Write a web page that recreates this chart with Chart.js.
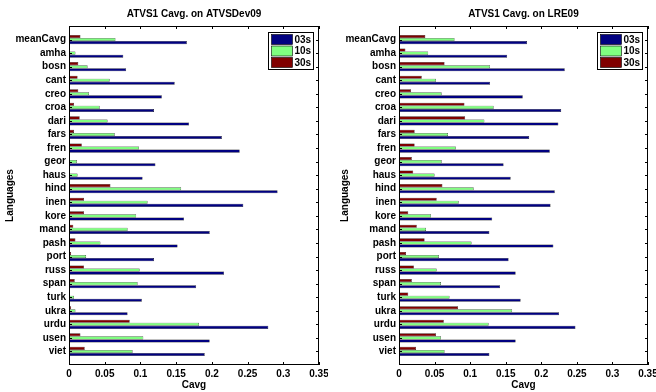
<!DOCTYPE html>
<html>
<head>
<meta charset="utf-8">
<script src="https://cdn.jsdelivr.net/npm/chart.js@4.4.1/dist/chart.umd.min.js"></script>
<style>
  html, body { margin: 0; padding: 0; background: #fff; }
  #wrap { position: relative; width: 656px; height: 392px; overflow: hidden; }
  .box { position: absolute; top: 0; width: 328px; height: 392px; }
</style>
</head>
<body>
<div id="wrap">
  <div class="box" style="left:0"><canvas id="devChart" width="328" height="392"></canvas></div>
  <div class="box" style="left:328px"><canvas id="lreChart" width="328" height="392"></canvas></div>
</div>
<script>
const languages = ["meanCavg", "amha", "bosn", "cant", "creo", "croa", "dari", "fars", "fren", "geor", "haus", "hind",
  "inen", "kore", "mand", "pash", "port", "russ", "span", "turk", "ukra", "urdu", "usen", "viet"];
const seriesNames = ["03s", "10s", "30s"];
const seriesColors = ["#000080", "#80ff80", "#800000"];
const xTickLabels = ["0", "0.05", "0.1", "0.15", "0.2", "0.25", "0.3", "0.35"];

// ATVSDev09
const dev03 = [0.165, 0.076, 0.080, 0.148, 0.130, 0.119, 0.168, 0.214, 0.239, 0.121, 0.103, 0.292,
  0.244, 0.161, 0.197, 0.152, 0.119, 0.217, 0.178, 0.102, 0.082, 0.279, 0.197, 0.190];
const dev10 = [0.065, 0.009, 0.026, 0.057, 0.028, 0.043, 0.054, 0.064, 0.098, 0.011, 0.012, 0.157,
  0.110, 0.094, 0.082, 0.044, 0.024, 0.099, 0.096, 0.007, 0.009, 0.182, 0.104, 0.089];
const dev30 = [0.016, 0.001, 0.013, 0.012, 0.013, 0.007, 0.015, 0.007, 0.018, 0.000, 0.000, 0.058,
  0.021, 0.021, 0.006, 0.009, 0.003, 0.021, 0.008, 0.000, 0.003, 0.085, 0.016, 0.022];

// LRE09
const lre03 = [0.180, 0.152, 0.233, 0.128, 0.174, 0.228, 0.224, 0.183, 0.212, 0.147, 0.157, 0.219,
  0.213, 0.131, 0.127, 0.217, 0.154, 0.164, 0.142, 0.171, 0.225, 0.248, 0.164, 0.127];
const lre10 = [0.078, 0.041, 0.128, 0.052, 0.060, 0.133, 0.120, 0.069, 0.080, 0.060, 0.050, 0.105,
  0.084, 0.045, 0.038, 0.102, 0.056, 0.053, 0.059, 0.071, 0.159, 0.126, 0.059, 0.064];
const lre30 = [0.037, 0.009, 0.064, 0.032, 0.017, 0.092, 0.093, 0.022, 0.022, 0.018, 0.020, 0.061,
  0.053, 0.013, 0.025, 0.036, 0.010, 0.021, 0.018, 0.013, 0.083, 0.063, 0.052, 0.024];

Chart.defaults.font.family = '"Liberation Sans", Arial, sans-serif';
Chart.defaults.font.size = 10;
Chart.defaults.font.weight = "bold";
Chart.defaults.color = "#000";

// blank slot above and below, like the matlab axis limits
const pad = (arr) => [null, ...arr, null];

// box, inward ticks and legend inside the plot
const framePlugin = {
  id: "frame",
  afterDraw(chart) {
    const { ctx, chartArea: a, scales: { x, y } } = chart;
    ctx.save();
    ctx.strokeStyle = "#000";
    ctx.lineWidth = 1;
    ctx.strokeRect(a.left + 0.5, a.top + 0.5, a.width - 1, a.height - 1);
    ctx.beginPath();
    x.ticks.forEach((t) => {
      const px = Math.round(x.getPixelForValue(t.value)) + 0.5;
      ctx.moveTo(px, a.bottom); ctx.lineTo(px, a.bottom - 3);
      ctx.moveTo(px, a.top); ctx.lineTo(px, a.top + 3);
    });
    for (let i = 1; i <= languages.length; i++) {
      const py = Math.round(y.getPixelForValue(i)) + 0.5;
      ctx.moveTo(a.left, py); ctx.lineTo(a.left + 3, py);
      ctx.moveTo(a.right, py); ctx.lineTo(a.right - 3, py);
    }
    ctx.stroke();

    // legend
    const lw = 45, lh = 37;
    const lx = Math.round(a.right - 6 - lw) + 0.5, ly = Math.round(a.top + 6) + 0.5;
    ctx.fillStyle = "#fff";
    ctx.fillRect(lx, ly, lw, lh);
    ctx.strokeRect(lx, ly, lw, lh);
    ctx.font = 'bold 10px "Liberation Sans", Arial, sans-serif';
    ctx.textBaseline = "middle";
    seriesNames.forEach((name, i) => {
      const ry = ly + 2 + i * 11.5;
      ctx.fillStyle = seriesColors[i];
      ctx.fillRect(lx + 3, ry, 21, 10);
      ctx.lineWidth = 0.6;
      ctx.strokeRect(lx + 3, ry, 21, 10);
      ctx.fillStyle = "#000";
      ctx.fillText(name, lx + 26, ry + 5.5);
    });
    ctx.restore();
  },
};

function createBarChart(canvasId, title, v03, v10, v30, yWidth, rightPad, yTitlePad) {
  const values = [v03, v10, v30];
  // 30s on top of each group, 03s at the bottom
  const datasets = [2, 1, 0].map((k) => ({
    label: seriesNames[k],
    data: pad(values[k]),
    backgroundColor: seriesColors[k],
    borderColor: "#000",
    borderWidth: 0.5,
    borderSkipped: false,
    categoryPercentage: 0.68,
    barPercentage: 1,
  }));

  new Chart(document.getElementById(canvasId), {
    type: "bar",
    data: { labels: ["", ...languages, ""], datasets: datasets },
    options: {
      indexAxis: "y",
      responsive: false,
      animation: false,
      layout: { padding: { left: 0, right: rightPad, top: 0, bottom: 0 } },
      scales: {
        x: {
          min: 0,
          max: 0.35,
          grid: { display: false, drawTicks: false },
          border: { display: false },
          ticks: {
            stepSize: 0.05,
            padding: 3,
            autoSkip: false,
            maxRotation: 0,
            callback: (v, i) => xTickLabels[i],
          },
          title: { display: true, text: "Cavg", padding: { top: 0, bottom: 1 } },
          afterFit: (s) => { s.height = 27; s.paddingLeft = 0; s.paddingRight = 0; },
        },
        y: {
          offset: false,
          grid: { display: false, drawTicks: false },
          border: { display: false },
          ticks: { padding: 3, autoSkip: false },
          title: { display: true, text: "Languages", padding: { top: yTitlePad, bottom: 0 } },
          afterFit: (s) => { s.width = yWidth; s.paddingTop = 0; s.paddingBottom = 0; },
        },
      },
      plugins: {
        legend: { display: false },
        tooltip: { enabled: false },
        title: {
          display: true,
          text: title,
          fullSize: false,
          font: { size: 10, weight: "bold" },
          padding: { top: 8, bottom: 6 },
        },
      },
    },
    plugins: [framePlugin],
  });
}

createBarChart("devChart", "ATVS1 Cavg. on ATVSDev09", dev03, dev10, dev30, 69, 9, 4);
createBarChart("lreChart", "ATVS1 Cavg. on LRE09", lre03, lre10, lre30, 71, 8, 11.5);
</script>
</body>
</html>
